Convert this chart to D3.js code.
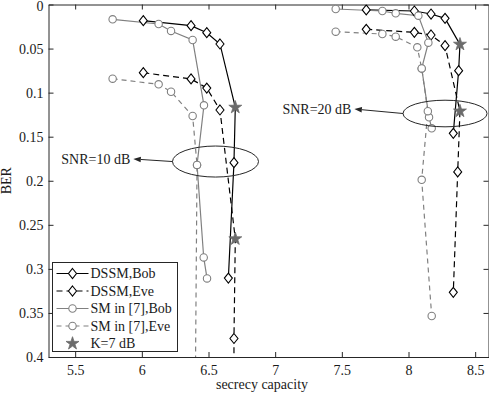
<!DOCTYPE html>
<html>
<head>
<meta charset="utf-8">
<script src="https://cdn.jsdelivr.net/npm/d3@7"></script>
<style>
  html, body { margin: 0; padding: 0; background: #fff; }
  svg { display: block; }
  text { font-family: "Liberation Serif", "Times New Roman", serif; }
</style>
</head>
<body>
<svg id="chart" width="489" height="397"></svg>
<script>
// ---------- data ----------
const xTicks = [5.5, 6, 6.5, 7, 7.5, 8, 8.5];
const xTickLabels = ["5.5", "6", "6.5", "7", "7.5", "8", "8.5"];
const yTicks = [0, 0.05, 0.1, 0.15, 0.2, 0.25, 0.3, 0.35, 0.4];
const yTickLabels = ["0", "0.05", "0.1", "0.15", "0.2", "0.25", "0.3", "0.35", "0.4"];

// SNR = 10 dB
const dssmBob10 = [[6.011,0.0184],[6.369,0.024],[6.487,0.032],[6.586,0.0448],[6.701,0.1167],[6.691,0.1795],[6.649,0.3104]];
const dssmEve10 = [[6.011,0.0774],[6.369,0.0845],[6.487,0.0948],[6.586,0.1197],[6.701,0.266],[6.691,0.379],[6.691,0.45]];
const smBob10   = [[5.781,0.0168],[6.126,0.0221],[6.219,0.030],[6.381,0.0403],[6.466,0.1144],[6.414,0.182],[6.464,0.287],[6.489,0.3108]];
const smEve10   = [[5.781,0.0842],[6.126,0.0906],[6.219,0.099],[6.381,0.1265],[6.414,0.182],[6.40,0.46]];
// SNR = 20 dB
const dssmBob20 = [[7.683,0.0062],[8.044,0.0074],[8.169,0.0108],[8.274,0.0157],[8.386,0.0452],[8.376,0.0751],[8.336,0.1462]];
const dssmEve20 = [[7.683,0.0282],[8.044,0.0316],[8.169,0.0346],[8.274,0.0467],[8.386,0.121],[8.369,0.190],[8.336,0.3266]];
const smBob20   = [[7.454,0.0051],[7.804,0.0074],[7.904,0.010],[8.074,0.0127],[8.149,0.0433],[8.099,0.0725],[8.154,0.128],[8.174,0.1405]];
const smEve20   = [[7.454,0.0308],[7.804,0.0335],[7.904,0.0365],[8.066,0.0486],[8.099,0.0725],[8.145,0.121],[8.099,0.199],[8.174,0.3535]];

// K = 7 dB points
const kStars = [[6.701,0.1167],[6.701,0.266],[8.386,0.0452],[8.386,0.121]];

const legendLabels = ["DSSM,Bob", "DSSM,Eve", "SM in [7],Bob", "SM in [7],Eve", "K=7 dB"];

// annotations (data units)
const snrLabels = ["SNR=10 dB", "SNR=20 dB"];
const ellipseCenters = [[6.5525, 0.1782], [8.274, 0.1237]];
const ellipseRadii = [[0.3225, 0.0176], [0.315, 0.0151]];
const arrowTips = [[5.936, 0.1753], [7.594, 0.1186]];

// ---------- chart ----------
const svg = d3.select("#chart");
const W = 489, H = 397;
const x = d3.scaleLinear().domain([5.3, 8.6]).range([48.5, 488.5]);
const y = d3.scaleLinear().domain([0, 0.4]).range([4.5, 357]);
const axisColor = "#262626";
const FS = 14;

svg.append("rect").attr("width", W).attr("height", H).attr("fill", "#fff");

svg.append("defs").append("clipPath").attr("id", "plotclip")
  .append("rect")
  .attr("x", x.range()[0]).attr("y", y.range()[0])
  .attr("width", x.range()[1] - x.range()[0])
  .attr("height", y.range()[1] - y.range()[0]);

// axes
const gB = svg.append("g").attr("transform", `translate(0,${y.range()[1]})`)
  .call(d3.axisBottom(x).tickValues(xTicks).tickSize(-5).tickSizeOuter(0).tickPadding(8)
    .tickFormat((d, i) => xTickLabels[i]));
const gT = svg.append("g").attr("transform", `translate(0,${y.range()[0]})`)
  .call(d3.axisTop(x).tickValues(xTicks).tickSize(-5).tickSizeOuter(0).tickFormat(""));
const gL = svg.append("g").attr("transform", `translate(${x.range()[0]},0)`)
  .call(d3.axisLeft(y).tickValues(yTicks).tickSize(-5).tickSizeOuter(0).tickPadding(5)
    .tickFormat((d, i) => yTickLabels[i]));
const gR = svg.append("g").attr("transform", `translate(${x.range()[1]},0)`)
  .call(d3.axisRight(y).tickValues(yTicks).tickSize(-5).tickSizeOuter(0).tickFormat(""));

[gB, gT, gL, gR].forEach(g => {
  g.selectAll("path.domain").attr("stroke", axisColor).attr("stroke-width", 1);
  g.selectAll(".tick line").attr("stroke", axisColor).attr("stroke-width", 1);
  g.selectAll(".tick text").attr("fill", "#1a1a1a").style("font-size", FS + "px")
    .style("font-family", '"Liberation Serif", "Times New Roman", serif');
});
gL.selectAll(".tick text").attr("dy", "0.35em");
// keep the top "0" label fully inside the picture
gL.selectAll(".tick text").filter((d, i) => i === 0).attr("dy", "0.35em").attr("y", 1.2);

// axis labels
svg.append("text").attr("x", 262).attr("y", 389).attr("text-anchor", "middle")
  .style("font-size", FS + "px").attr("fill", "#1a1a1a").text("secrecy capacity");
svg.append("text").attr("transform", `translate(11,${(y.range()[0] + y.range()[1]) / 2}) rotate(-90)`)
  .attr("text-anchor", "middle").style("font-size", FS + "px").attr("fill", "#1a1a1a").text("BER");

// series
const black = "#000", gray = "#808080";
const series = [
  { data: dssmBob10, color: black, dash: null, marker: "diamond" },
  { data: dssmBob20, color: black, dash: null, marker: "diamond" },
  { data: dssmEve10, color: black, dash: "6,4", marker: "diamond" },
  { data: dssmEve20, color: black, dash: "6,4", marker: "diamond" },
  { data: smBob10, color: gray, dash: null, marker: "circle" },
  { data: smBob20, color: gray, dash: null, marker: "circle" },
  { data: smEve10, color: gray, dash: "5,4", marker: "circle" },
  { data: smEve20, color: gray, dash: "5,4", marker: "circle" }
];

const plot = svg.append("g").attr("clip-path", "url(#plotclip)");
const line = d3.line().x(d => x(d[0])).y(d => y(d[1]));
const diamondPath = "M0,-5L4,0L0,5L-4,0Z";
const isStar = d => kStars.some(s => s[0] === d[0] && s[1] === d[1]);

function drawMarker(g, type, color) {
  if (type === "diamond") {
    g.append("path").attr("d", diamondPath).attr("fill", "#fff")
      .attr("stroke", color).attr("stroke-width", 1.1);
  } else if (type === "circle") {
    g.append("circle").attr("r", 3.7).attr("fill", "#fff")
      .attr("stroke", color).attr("stroke-width", 1.1);
  } else if (type === "star") {
    g.append("path").attr("d", d3.symbol().type(d3.symbolStar).size(52)())
      .attr("fill", "#6b6b6b").attr("stroke", "#6b6b6b").attr("stroke-width", 0.8);
  }
}

series.forEach(s => {
  plot.append("path").datum(s.data).attr("d", line)
    .attr("fill", "none").attr("stroke", s.color).attr("stroke-width", 1.2)
    .attr("stroke-dasharray", s.dash);
});
series.forEach(s => {
  s.data.filter(d => !isStar(d)).forEach(d => {
    const g = plot.append("g").attr("transform", `translate(${x(d[0])},${y(d[1])})`);
    drawMarker(g, s.marker, s.color);
  });
});
kStars.forEach(d => {
  const g = plot.append("g").attr("transform", `translate(${x(d[0])},${y(d[1])})`);
  drawMarker(g, "star");
});

// ellipses + arrows + labels
const annColor = "#262626";
ellipseCenters.forEach((c, i) => {
  const cx = x(c[0]), cy = y(c[1]);
  const rx = x(c[0] + ellipseRadii[i][0]) - cx;
  const ry = y(c[1] + ellipseRadii[i][1]) - cy;
  svg.append("ellipse").attr("cx", cx).attr("cy", cy).attr("rx", rx).attr("ry", ry)
    .attr("fill", "none").attr("stroke", annColor).attr("stroke-width", 1);
  const sx = cx - rx, sy = cy;
  const tx = x(arrowTips[i][0]), ty = y(arrowTips[i][1]);
  const ang = Math.atan2(ty - sy, tx - sx);
  const L = 7.5, hw = 2.8;
  const bx = tx - L * Math.cos(ang), by = ty - L * Math.sin(ang);
  svg.append("line").attr("x1", sx).attr("y1", sy).attr("x2", bx).attr("y2", by)
    .attr("stroke", annColor).attr("stroke-width", 1);
  const px = -Math.sin(ang) * hw, py = Math.cos(ang) * hw;
  svg.append("path")
    .attr("d", `M${tx},${ty}L${bx + px},${by + py}L${bx - px},${by - py}Z`)
    .attr("fill", annColor);
  svg.append("text").attr("x", tx - 3).attr("y", ty).attr("dy", "0.35em")
    .attr("text-anchor", "end").style("font-size", FS + "px").attr("fill", "#1a1a1a")
    .text(snrLabels[i]);
});

// legend
const leg = svg.append("g");
leg.append("rect").attr("x", 52.5).attr("y", 262.5).attr("width", 125).attr("height", 89)
  .attr("fill", "#fff").attr("stroke", axisColor).attr("stroke-width", 1);
const legStyles = [
  { color: black, dash: null, marker: "diamond", line: true },
  { color: black, dash: "6,4", marker: "diamond", line: true },
  { color: gray, dash: null, marker: "circle", line: true },
  { color: gray, dash: "5,4", marker: "circle", line: true },
  { color: "#6b6b6b", dash: null, marker: "star", line: false }
];
legendLabels.forEach((lab, i) => {
  const ly = 273.5 + i * 17.5;
  const st = legStyles[i];
  if (st.line) {
    leg.append("line").attr("x1", 56.5).attr("x2", 88.5).attr("y1", ly).attr("y2", ly)
      .attr("stroke", st.color).attr("stroke-width", 1.2).attr("stroke-dasharray", st.dash);
  }
  const g = leg.append("g").attr("transform", `translate(72.5,${ly})`);
  drawMarker(g, st.marker, st.color);
  leg.append("text").attr("x", 90.5).attr("y", ly).attr("dy", "0.35em")
    .style("font-size", FS + "px").attr("fill", "#1a1a1a").text(lab);
});
</script>
</body>
</html>
